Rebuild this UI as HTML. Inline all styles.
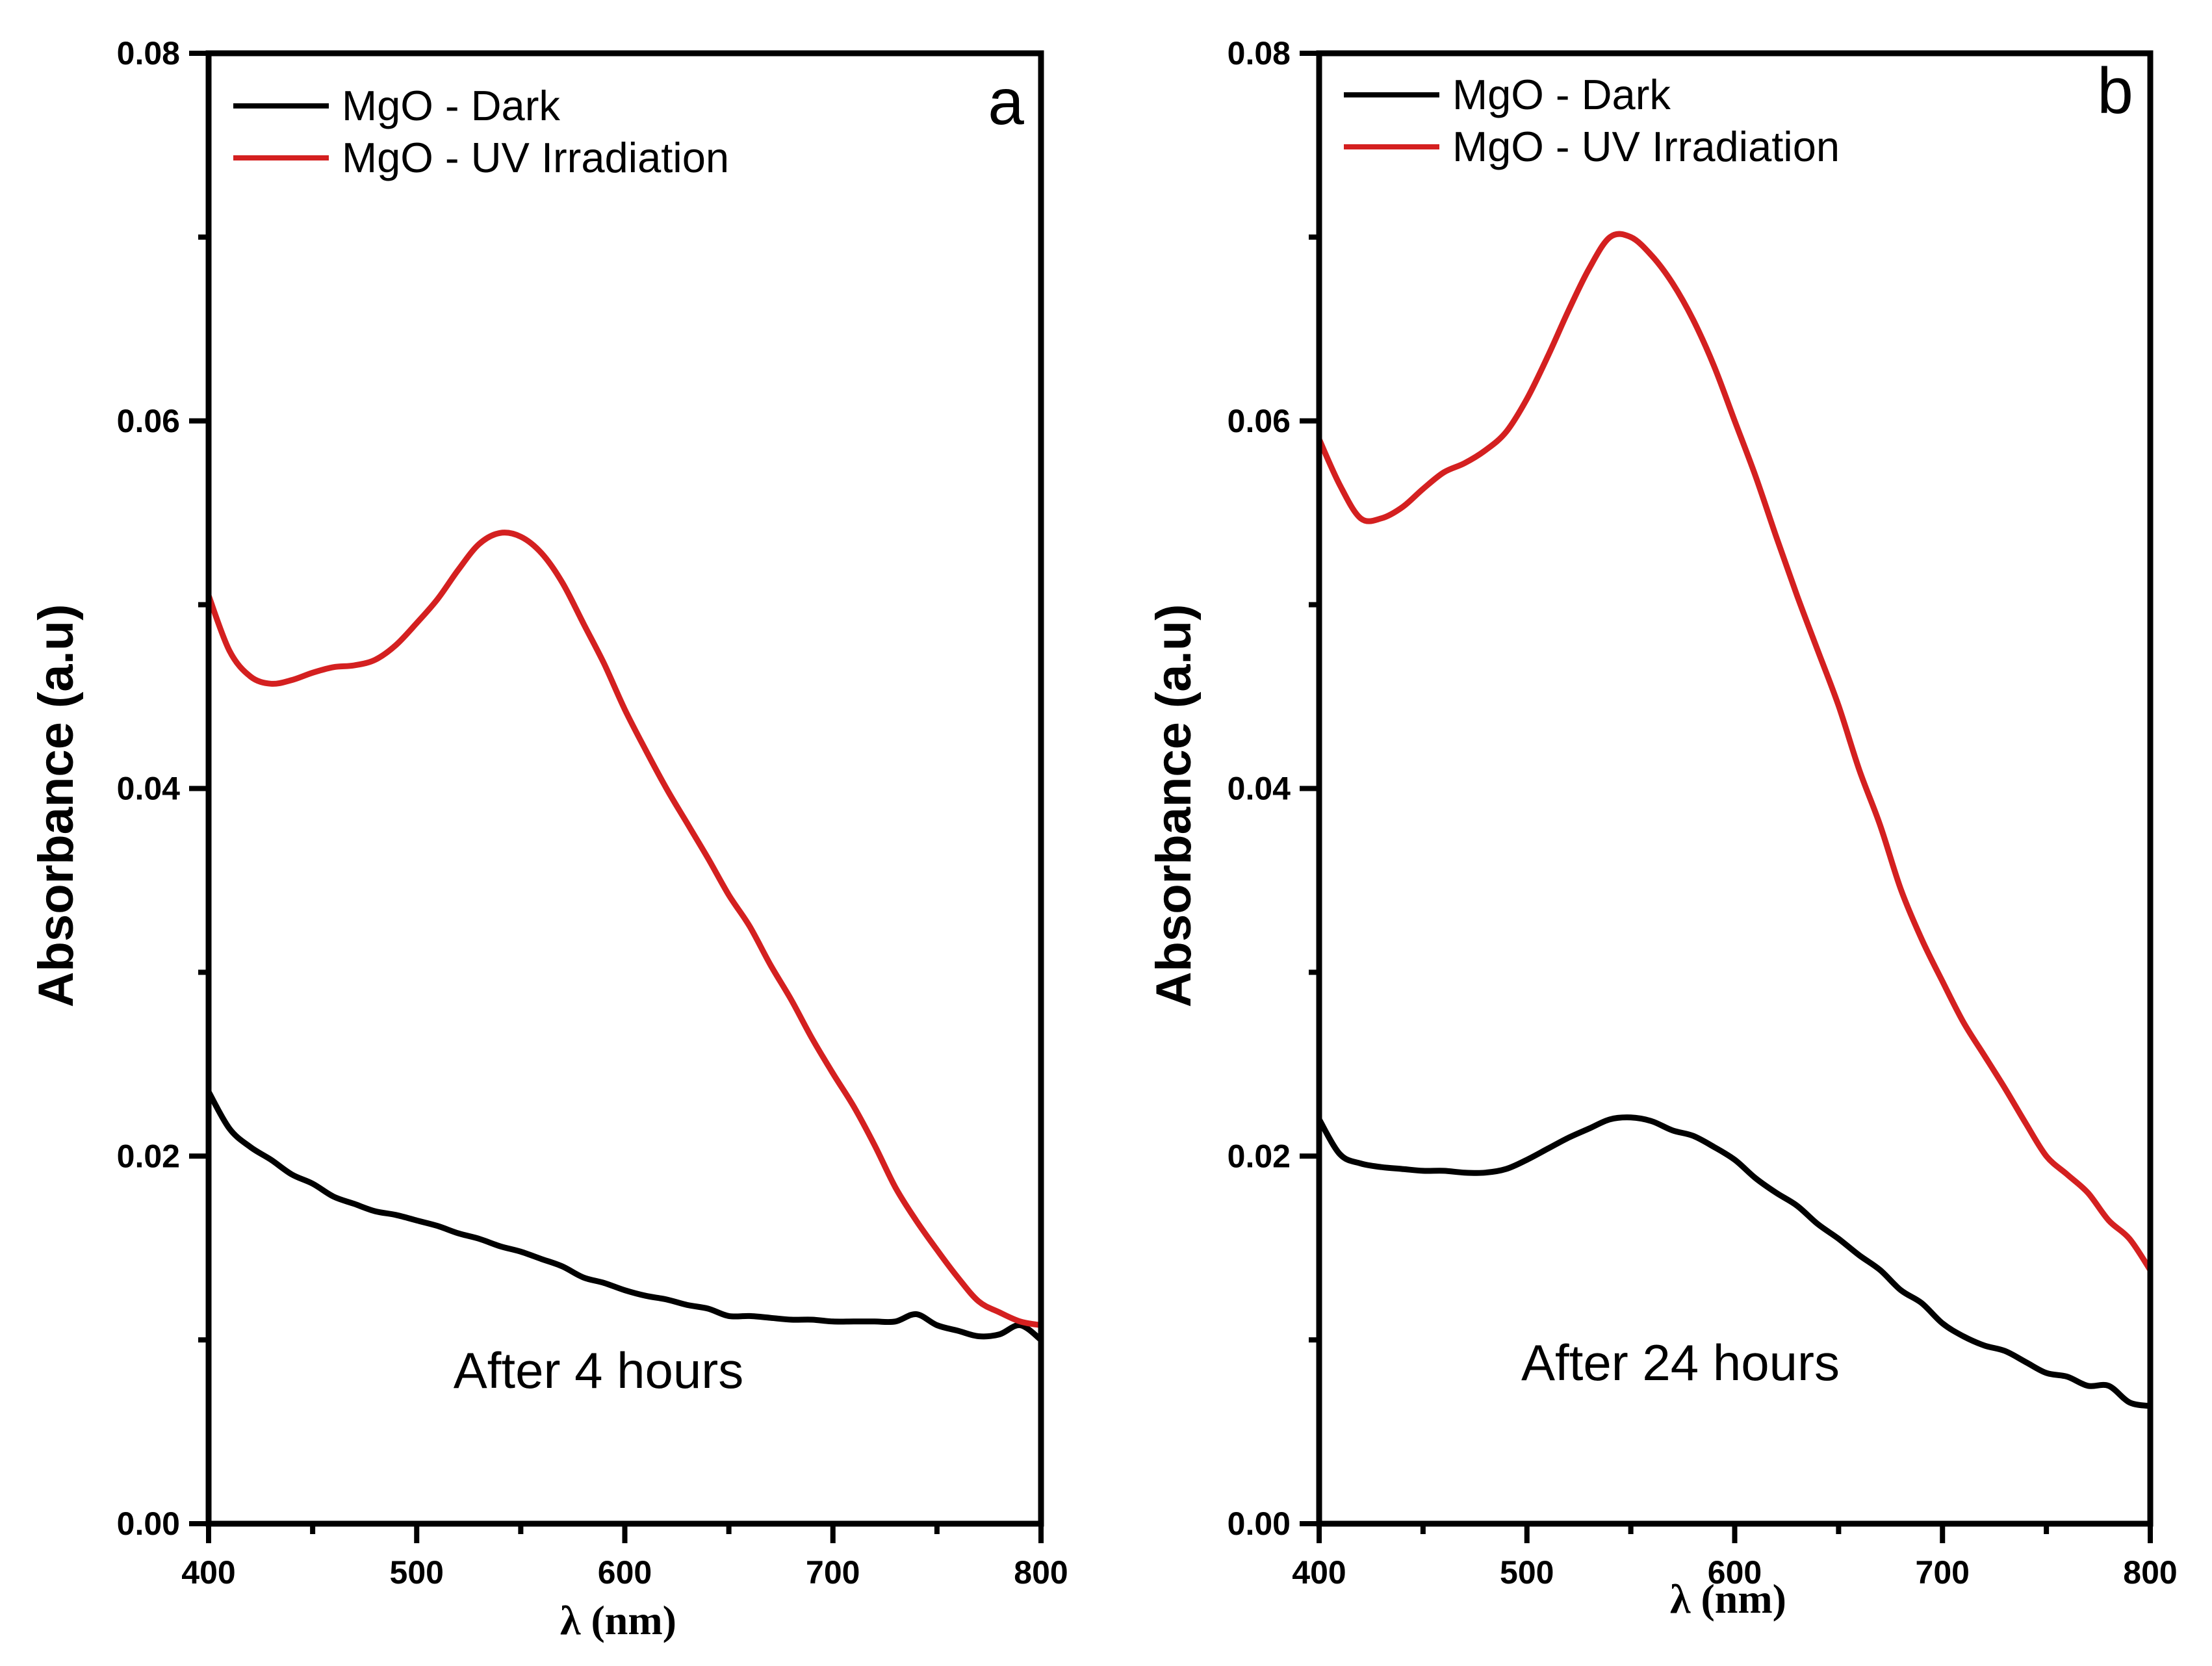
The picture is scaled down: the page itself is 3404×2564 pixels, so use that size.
<!DOCTYPE html>
<html><head><meta charset="utf-8"><style>
html,body{margin:0;padding:0;background:#fff;}
svg{display:block;}
</style></head><body>
<svg id="fig" width="3404" height="2564" viewBox="0 0 3404 2564" xmlns="http://www.w3.org/2000/svg"></svg>
<script>
const wavelengths = [400,410,420,430,440,450,460,470,480,490,500,510,520,530,540,550,560,570,580,590,600,610,620,630,640,650,660,670,680,690,700,710,720,730,740,750,760,770,780,790,800];
const darkA = [0.0235,0.0215,0.0205,0.0198,0.0190,0.0185,0.0178,0.0174,0.0170,0.0168,0.0165,0.0162,0.0158,0.0155,0.0151,0.0148,0.0144,0.0140,0.0134,0.0131,0.0127,0.0124,0.0122,0.0119,0.0117,0.0113,0.0113,0.0112,0.0111,0.0111,0.0110,0.0110,0.0110,0.0110,0.0114,0.0108,0.0105,0.0102,0.0103,0.0108,0.0100];
const uvA = [0.0505,0.0475,0.0461,0.0457,0.0459,0.0463,0.0466,0.0467,0.0470,0.0478,0.0490,0.0503,0.0519,0.0533,0.0539,0.0537,0.0528,0.0512,0.0490,0.0468,0.0443,0.0421,0.0400,0.0381,0.0362,0.0342,0.0325,0.0304,0.0285,0.0264,0.0245,0.0227,0.0206,0.0183,0.0165,0.0149,0.0134,0.0121,0.0115,0.0110,0.0108];
const darkB = [0.0220,0.0201,0.0196,0.0194,0.0193,0.0192,0.0192,0.0191,0.0191,0.0193,0.0198,0.0204,0.0210,0.0215,0.0220,0.0221,0.0219,0.0214,0.0211,0.0205,0.0198,0.0188,0.0180,0.0173,0.0163,0.0155,0.0146,0.0138,0.0127,0.0120,0.0109,0.0102,0.0097,0.0094,0.0088,0.0082,0.0080,0.0075,0.0075,0.0066,0.0064];
const uvB = [0.0590,0.0565,0.0547,0.0547,0.0553,0.0563,0.0572,0.0577,0.0584,0.0594,0.0612,0.0635,0.0660,0.0683,0.0700,0.0700,0.0690,0.0675,0.0655,0.0630,0.0600,0.0570,0.0537,0.0505,0.0475,0.0445,0.0410,0.0380,0.0345,0.0318,0.0295,0.0273,0.0255,0.0237,0.0218,0.0200,0.0190,0.0180,0.0165,0.0155,0.0138];
const xTicks = [400,500,600,700,800];
const yTicks = [0.00,0.02,0.04,0.06,0.08];
const yTickLabels = ["0.00","0.02","0.04","0.06","0.08"];

const NS = "http://www.w3.org/2000/svg";
const svg = document.getElementById('fig');
function mk(tag, attrs, parent){const e=document.createElementNS(NS,tag);for(const k in attrs)e.setAttribute(k,attrs[k]);(parent||svg).appendChild(e);return e;}

function panel(cfg){
  const g = mk('g',{});
  
  
  const L=cfg.left,R=cfg.right,T=82,B=2345;
  const xs=v=>L+(v-400)/400*(R-L);
  const ys=v=>B-v/0.08*(B-T);
  const series=[[cfg.dark,'#000','dark-series'],[cfg.uv,'#d42020','uv-series']];
  series.forEach(s=>{
    const pts=wavelengths.map((w,i)=>[xs(w),ys(s[0][i])]);
    let d='M'+pts[0][0].toFixed(1)+' '+pts[0][1].toFixed(1);
    for(let i=0;i<pts.length-1;i++){
      const p0=pts[Math.max(0,i-1)],p1=pts[i],p2=pts[i+1],p3=pts[Math.min(pts.length-1,i+2)];
      const c1x=p1[0]+(p2[0]-p0[0])/6,c1y=p1[1]+(p2[1]-p0[1])/6;
      const c2x=p2[0]-(p3[0]-p1[0])/6,c2y=p2[1]-(p3[1]-p1[1])/6;
      d+=` C${c1x.toFixed(1)} ${c1y.toFixed(1)} ${c2x.toFixed(1)} ${c2y.toFixed(1)} ${p2[0].toFixed(1)} ${p2[1].toFixed(1)}`;
    }
    const p=mk('path',{d:d,fill:'none',stroke:s[1],'stroke-width':9,'stroke-linejoin':'round'},g);
    
    
  });
  const fr=mk('rect',{x:L,y:T,width:R-L,height:B-T,fill:'none',stroke:'#000','stroke-width':9},g);
  
  
  for(let v=400;v<=800;v+=50){
    const major=v%100===0;
    mk('line',{x1:xs(v),x2:xs(v),y1:B,y2:B+(major?30:16),stroke:'#000','stroke-width':8},g);
  }
  xTicks.forEach(v=>{
    const t=mk('text',{x:xs(v),y:B+92,'text-anchor':'middle','font-family':'Liberation Sans, sans-serif','font-weight':'bold','font-size':50},g);
    t.textContent=v;
    
    
  });
  for(let v=0;v<=0.0801;v+=0.01){
    const major=Math.round(v*100)%2===0;
    mk('line',{x1:L,x2:L-(major?30:16),y1:ys(v),y2:ys(v),stroke:'#000','stroke-width':8},g);
  }
  yTicks.forEach((v,i)=>{
    const t=mk('text',{x:L-44,y:ys(v)+17,'text-anchor':'end','font-family':'Liberation Sans, sans-serif','font-weight':'bold','font-size':50},g);
    t.textContent=yTickLabels[i];
    
    
  });
  const yt=mk('text',{x:0,y:0,transform:`translate(${cfg.ytx},1240) rotate(-90)`,'text-anchor':'middle','font-family':'Liberation Sans, sans-serif','font-weight':'bold','font-size':76},g);
  yt.textContent='Absorbance (a.u)';
  
  
  const xt=mk('text',{x:(L+R)/2-10,y:cfg.xty,'text-anchor':'middle','font-family':'Liberation Serif, serif','font-weight':'bold','font-size':64},g);
  xt.textContent='λ (nm)';
  
  
  const lg=mk('g',{},g);
  
  
  [['MgO - Dark','#000',cfg.ly1],['MgO - UV Irradiation','#d42020',cfg.ly2]].forEach(e=>{
    const eg=mk('g',{},lg);
    
    
    mk('line',{x1:L+38,x2:L+185,y1:e[2],y2:e[2],stroke:e[1],'stroke-width':8},eg);
    const t=mk('text',{x:L+205,y:e[2]+22,'font-family':'Liberation Sans, sans-serif','font-size':65},eg);
    t.textContent=e[0];
  });
  const pl=mk('text',{x:R-54,y:cfg.ly1+28,'text-anchor':'middle','font-family':'Liberation Sans, sans-serif','font-size':100},g);
  pl.textContent=cfg.id;
  
  
  const an=mk('text',{x:cfg.annx,y:cfg.anny,'text-anchor':'middle','font-family':'Liberation Sans, sans-serif','font-size':78},g);
  an.textContent=cfg.ann;
  
  
}
panel({id:'a',left:321,right:1602,dark:darkA,uv:uvA,ytx:112,xty:2515,ly1:163,ly2:243,ann:'After 4 hours',annx:921,anny:2136});
panel({id:'b',left:2030,right:3309,dark:darkB,uv:uvB,ytx:1832,xty:2482,ly1:146,ly2:226,ann:'After 24 hours',annx:2586,anny:2124});
</script>
</body></html>
